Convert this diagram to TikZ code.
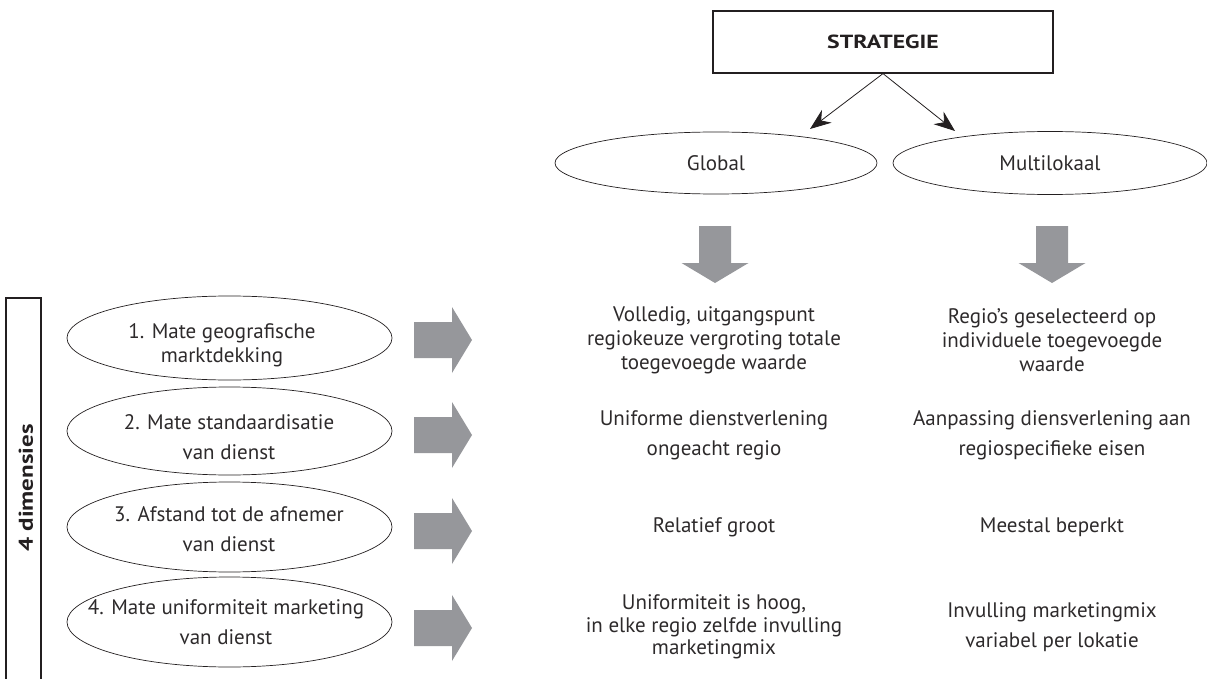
\documentclass[tikz,border=0pt]{standalone}
\usepackage{fontspec}
\setmainfont{PT Sans}
\newfontfamily\headfont{PT Sans}[FakeStretch=1.25]
\usetikzlibrary{shapes.geometric,arrows.meta}

\definecolor{ink}{RGB}{35,31,32}
\definecolor{bodyink}{RGB}{45,42,43}
\definecolor{arrowgray}{RGB}{150,151,155}

% fat grey arrow pointing right, centred vertically on #1
\newcommand\fatright[1]{%
  \fill[arrowgray] (414,{#1-18}) -- (452,{#1-18}) -- (452,{#1-33}) -- (472,#1)
    -- (452,{#1+33}) -- (452,{#1+18}) -- (414,{#1+18}) -- cycle;}
% fat grey arrow pointing down, centred horizontally on #1
\newcommand\fatdown[1]{%
  \fill[arrowgray] ({#1-16},226) -- ({#1+16},226) -- ({#1+16},263) -- ({#1+33.5},263)
    -- (#1,283) -- ({#1-33.5},263) -- ({#1-16},263) -- cycle;}

\tikzset{
  body/.style={font=\fontsize{21}{24}\selectfont, text=bodyink, align=center, inner sep=0pt},
  heading/.style={font=\headfont\bfseries, text=ink, inner sep=0pt},
  oval/.style={ellipse, draw=ink, line width=0.7pt, inner sep=0pt},
  dimoval/.style={oval, minimum width=325pt},
  thinarrow/.style={draw=ink, line width=0.8pt, -{Stealth[length=21pt,width=16pt,inset=7pt]}},
}

\begin{document}
\begin{tikzpicture}[x=1pt,y=-1pt]
\useasboundingbox (0,0) rectangle (1207,679);

% strategy box and its two options
\node[heading, draw=ink, line width=1.2pt, minimum width=340pt, minimum height=62pt]
  (strat) at (883,42) {\fontsize{19}{21}\selectfont STRATEGIE};

\node[oval, minimum width=322pt, minimum height=62pt] (glob) at (716,163) {};
\node[body] (globt) at (716,163) {Global};
\node[oval, minimum width=314pt, minimum height=63pt] (multi) at (1050,163) {};
\node[body] (multit) at (1050,163) {Multilokaal};

\coordinate (gtip) at (810,129);
\coordinate (mtip) at (955,131);
\draw[thinarrow] (strat.south) -- (gtip);
\draw[thinarrow] (strat.south) -- (mtip);

\fatdown{715}
\fatdown{1052}

% bracket holding the four dimensions
\draw[draw=ink, line width=1.2pt] (6,700) -- (6,298) -- (41,298) -- (41,700);
\node[heading, rotate=90] (dims) at (26,488) {\fontsize{20}{22}\selectfont 4 dimensies};

% the four dimensions
\node[dimoval, minimum height=84pt] (d1) at (229.5,338) {};
\node[dimoval, minimum height=88pt] (d2) at (229.5,431) {};
\node[dimoval, minimum height=90pt] (d3) at (229.5,527) {};
\node[dimoval, minimum height=90pt] (d4) at (229.5,622) {};

\node[body] (d1t) at (222,345) {1. Mate geografische\\ marktdekking};
\node[body] (d2t) at (229,437) {2. Mate standaardisatie\\[6pt] van dienst};
\node[body] (d3t) at (229,529) {3. Afstand tot de afnemer\\[6pt] van dienst};
\node[body] (d4t) at (226,622) {4. Mate uniformiteit marketing\\[6pt] van dienst};

\fatright{340}
\fatright{435}
\fatright{531}
\fatright{628}

% global column
\node[body] (g1) at (714,340) {Volledig, uitgangspunt\\ regiokeuze vergroting totale\\ toegevoegde waarde};
\node[body] (g2) at (714,435) {Uniforme dienstverlening\\[6pt] ongeacht regio};
\node[body] (g3) at (714,527) {Relatief groot};
\node[body] (g4) at (714,627) {Uniformiteit is hoog,\\[-1.5pt] in elke regio zelfde invulling\\[-1.5pt] marketingmix};

% multilocal column
\node[body] (m1) at (1052,340) {Regio's geselecteerd op\\ individuele toegevoegde\\ waarde};
\node[body] (m2) at (1052,435) {Aanpassing diensverlening aan\\[6pt] regiospecifieke eisen};
\node[body] (m3) at (1052,527) {Meestal beperkt};
\node[body] (m4) at (1052,627) {Invulling marketingmix\\[6pt] variabel per lokatie};

\end{tikzpicture}
\end{document}
